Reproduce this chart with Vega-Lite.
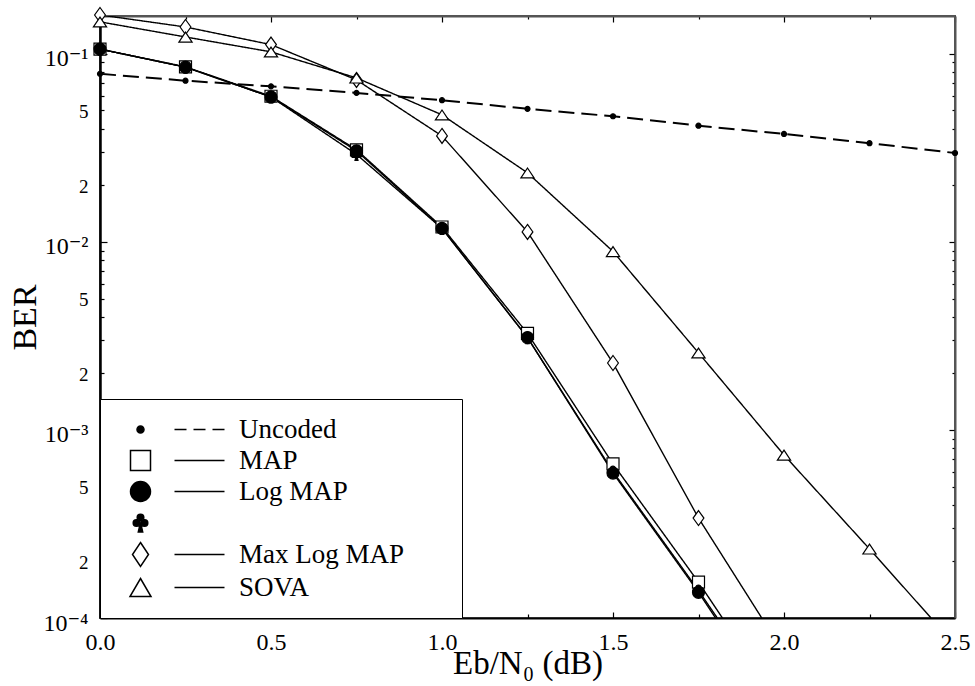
{
  "$schema": "https://vega.github.io/schema/vega-lite/v6.json",
  "width": 855,
  "height": 602,
  "autosize": {"type": "none"},
  "padding": {"left": 100, "top": 16, "right": 20, "bottom": 68},
  "background": "white",
  "data": {
    "values": [
      {"x": 0.0, "BER": 0.0783, "series": "Uncoded"},
      {"x": 0.25, "BER": 0.0720, "series": "Uncoded"},
      {"x": 0.5, "BER": 0.0672, "series": "Uncoded"},
      {"x": 0.75, "BER": 0.0620, "series": "Uncoded"},
      {"x": 1.0, "BER": 0.0567, "series": "Uncoded"},
      {"x": 1.25, "BER": 0.0510, "series": "Uncoded"},
      {"x": 1.5, "BER": 0.0466, "series": "Uncoded"},
      {"x": 1.75, "BER": 0.0415, "series": "Uncoded"},
      {"x": 2.0, "BER": 0.0375, "series": "Uncoded"},
      {"x": 2.25, "BER": 0.0335, "series": "Uncoded"},
      {"x": 2.5, "BER": 0.0297, "series": "Uncoded"},

      {"x": 0.0, "BER": 0.106, "series": "MAP"},
      {"x": 0.25, "BER": 0.0853, "series": "MAP"},
      {"x": 0.5, "BER": 0.0595, "series": "MAP"},
      {"x": 0.75, "BER": 0.0309, "series": "MAP"},
      {"x": 1.0, "BER": 0.0120, "series": "MAP"},
      {"x": 1.25, "BER": 0.00326, "series": "MAP"},
      {"x": 1.5, "BER": 0.00066, "series": "MAP"},
      {"x": 1.75, "BER": 0.000155, "series": "MAP"},
      {"x": 1.82, "BER": 0.0001, "series": "MAP"},

      {"x": 0.0, "BER": 0.106, "series": "Club"},
      {"x": 0.25, "BER": 0.0850, "series": "Club"},
      {"x": 0.5, "BER": 0.0590, "series": "Club"},
      {"x": 0.75, "BER": 0.0292, "series": "Club"},
      {"x": 1.0, "BER": 0.0118, "series": "Club"},
      {"x": 1.25, "BER": 0.00310, "series": "Club"},
      {"x": 1.5, "BER": 0.00060, "series": "Club"},
      {"x": 1.75, "BER": 0.000140, "series": "Club"},
      {"x": 1.805, "BER": 0.0001, "series": "Club"},

      {"x": 0.0, "BER": 0.106, "series": "Log MAP"},
      {"x": 0.25, "BER": 0.0850, "series": "Log MAP"},
      {"x": 0.5, "BER": 0.0590, "series": "Log MAP"},
      {"x": 0.75, "BER": 0.0305, "series": "Log MAP"},
      {"x": 1.0, "BER": 0.0118, "series": "Log MAP"},
      {"x": 1.25, "BER": 0.00310, "series": "Log MAP"},
      {"x": 1.5, "BER": 0.00059, "series": "Log MAP"},
      {"x": 1.75, "BER": 0.000137, "series": "Log MAP"},
      {"x": 1.80, "BER": 0.0001, "series": "Log MAP"},

      {"x": 0.0, "BER": 0.161, "series": "Max Log MAP"},
      {"x": 0.25, "BER": 0.139, "series": "Max Log MAP"},
      {"x": 0.5, "BER": 0.112, "series": "Max Log MAP"},
      {"x": 0.75, "BER": 0.0727, "series": "Max Log MAP"},
      {"x": 1.0, "BER": 0.0366, "series": "Max Log MAP"},
      {"x": 1.25, "BER": 0.0113, "series": "Max Log MAP"},
      {"x": 1.5, "BER": 0.00227, "series": "Max Log MAP"},
      {"x": 1.75, "BER": 0.00034, "series": "Max Log MAP"},
      {"x": 1.935, "BER": 0.0001, "series": "Max Log MAP"},

      {"x": 0.0, "BER": 0.148, "series": "SOVA"},
      {"x": 0.25, "BER": 0.123, "series": "SOVA"},
      {"x": 0.5, "BER": 0.1025, "series": "SOVA"},
      {"x": 0.75, "BER": 0.0745, "series": "SOVA"},
      {"x": 1.0, "BER": 0.0474, "series": "SOVA"},
      {"x": 1.25, "BER": 0.0233, "series": "SOVA"},
      {"x": 1.5, "BER": 0.0089, "series": "SOVA"},
      {"x": 1.75, "BER": 0.00257, "series": "SOVA"},
      {"x": 2.0, "BER": 0.000736, "series": "SOVA"},
      {"x": 2.25, "BER": 0.000233, "series": "SOVA"},
      {"x": 2.43, "BER": 0.0001, "series": "SOVA"}
    ]
  },
  "config": {
    "view": {"stroke": "#555555", "strokeWidth": 2},
    "axis": {
      "grid": false,
      "labelFont": "Liberation Serif, DejaVu Serif",
      "titleFont": "Liberation Serif, DejaVu Serif",
      "labelColor": "black",
      "titleColor": "black",
      "tickColor": "black",
      "domainColor": "black",
      "titleFontWeight": "normal",
      "labelOverlap": false,
      "labelFlush": false,
      "labelBound": false
    }
  },
  "resolve": {
    "axis": {"x": "independent", "y": "independent"},
    "scale": {"shape": "independent", "fill": "independent", "stroke": "independent"},
    "legend": {"shape": "independent", "fill": "independent", "stroke": "independent"}
  },
  "layer": [
    {
      "mark": {"type": "line", "clip": true, "color": "black"},
      "encoding": {
        "x": {
          "field": "x", "type": "quantitative",
          "scale": {"domain": [0, 2.5], "nice": false, "zero": false},
          "axis": {
            "orient": "bottom",
            "values": [0, 0.25, 0.5, 0.75, 1.0, 1.25, 1.5, 1.75, 2.0, 2.25, 2.5],
            "labelExpr": "round(datum.value*4) % 2 == 0 ? format(datum.value, '.1f') : ''",
            "labelFontSize": 24,
            "labelPadding": 18,
            "tickSize": {"condition": {"test": "round(datum.value*4) % 2 == 0", "value": -6}, "value": -4},
            "tickWidth": 1.2,
            "domainWidth": 2,
            "title": "Eb/N\u2080 (dB)",
            "titleFontSize": 33,
            "titlePadding": -9
          }
        },
        "y": {
          "field": "BER", "type": "quantitative",
          "scale": {"type": "log", "domain": [0.0001, 0.159], "nice": false},
          "axis": {
            "orient": "left",
            "values": [0.0001, 0.0002, 0.0003, 0.0004, 0.0005, 0.0006, 0.0007, 0.0008, 0.0009, 0.001, 0.002, 0.003, 0.004, 0.005, 0.006, 0.007, 0.008, 0.009, 0.01, 0.02, 0.03, 0.04, 0.05, 0.06, 0.07, 0.08, 0.09, 0.1],
            "labelExpr": "format(datum.value,'.0e') == '1e-1' ? '10\u207b\u00b9' : format(datum.value,'.0e') == '1e-2' ? '10\u207b\u00b2' : format(datum.value,'.0e') == '1e-3' ? '10\u207b\u00b3' : format(datum.value,'.0e') == '1e-4' ? '10\u207b\u2074' : indexof(format(datum.value,'.0e'),'5e') == 0 ? '5' : indexof(format(datum.value,'.0e'),'2e') == 0 ? '2' : ''",
            "labelFontSize": {"condition": {"test": "indexof(format(datum.value,'.0e'),'1e') == 0", "value": 24}, "value": 19},
            "labelOffset": {"condition": {"test": "indexof(format(datum.value,'.0e'),'1e') == 0", "value": 5}, "value": 1},
            "labelPadding": {"condition": {"test": "indexof(format(datum.value,'.0e'),'1e') == 0", "value": 19}, "value": 16},
            "tickSize": {"condition": {"test": "indexof(format(datum.value,'.0e'),'1e') == 0", "value": -7}, "value": -4},
            "tickWidth": 1.2,
            "domainWidth": 2.5,
            "title": "BER",
            "titleFontSize": 34,
            "titlePadding": 0
          }
        },
        "detail": {"field": "series"},
        "strokeDash": {
          "field": "series", "type": "nominal",
          "scale": {"type": "ordinal", "domain": ["Club", "MAP", "Log MAP", "Uncoded", "Max Log MAP", "SOVA"], "range": [[1, 0], [1, 0], [1, 0], [16, 7], [1, 0], [1, 0]]},
          "legend": null
        },
        "strokeWidth": {
          "field": "series", "type": "nominal",
          "scale": {"type": "ordinal", "domain": ["Max Log MAP", "MAP", "Log MAP", "Club", "Uncoded", "SOVA"], "range": [1.4, 1.4, 1.4, 1.4, 2, 1.4]},
          "legend": null
        }
      }
    },
    {
      "transform": [{"filter": "datum.BER > 0.0001"}],
      "mark": {"type": "point", "filled": true, "opacity": 1, "stroke": "black", "strokeWidth": 1.2, "clip": false},
      "encoding": {
        "x": {
          "field": "x", "type": "quantitative",
          "scale": {"domain": [0, 2.5], "nice": false, "zero": false},
          "axis": {
            "orient": "top",
            "values": [0, 0.25, 0.5, 0.75, 1.0, 1.25, 1.5, 1.75, 2.0, 2.25, 2.5],
            "labels": false,
            "title": null,
            "domainColor": "#555555",
            "domainWidth": 2,
            "tickSize": {"condition": {"test": "round(datum.value*4) % 2 == 0", "value": -6}, "value": -3},
            "tickWidth": 1.2
          }
        },
        "y": {
          "field": "BER", "type": "quantitative",
          "scale": {"type": "log", "domain": [0.0001, 0.159], "nice": false},
          "axis": {
            "orient": "right",
            "values": [0.0001, 0.0002, 0.0003, 0.0004, 0.0005, 0.0006, 0.0007, 0.0008, 0.0009, 0.001, 0.002, 0.003, 0.004, 0.005, 0.006, 0.007, 0.008, 0.009, 0.01, 0.02, 0.03, 0.04, 0.05, 0.06, 0.07, 0.08, 0.09, 0.1],
            "labels": false,
            "title": null,
            "domainColor": "#555555",
            "domainWidth": 2,
            "tickSize": {"condition": {"test": "indexof(format(datum.value,'.0e'),'1e') == 0", "value": -6}, "value": -3},
            "tickWidth": 1.2
          }
        },
        "shape": {
          "field": "series", "type": "nominal",
          "scale": {
            "domain": ["Uncoded", "MAP", "Log MAP", "Club", "Max Log MAP", "SOVA"],
            "range": [
              "circle",
              "square",
              "circle",
              "M-0.42,-0.5 A0.42,0.42 0 1,1 0.42,-0.5 A0.42,0.42 0 1,1 -0.42,-0.5 Z M-0.9,0.1 A0.42,0.42 0 1,1 -0.06,0.1 A0.42,0.42 0 1,1 -0.9,0.1 Z M0.06,0.1 A0.42,0.42 0 1,1 0.9,0.1 A0.42,0.42 0 1,1 0.06,0.1 Z M-0.25,1 L0,0 L0.25,1 Z",
              "M0,-1.25 L0.9,0 L0,1.25 L-0.9,0 Z",
              "M0,-0.8 L1.1,0.85 L-1.1,0.85 Z"
            ]
          },
          "legend": null
        },
        "fill": {
          "field": "series", "type": "nominal",
          "scale": {"domain": ["MAP", "Uncoded", "Log MAP", "Club", "Max Log MAP", "SOVA"], "range": ["white", "black", "black", "black", "white", "white"]},
          "legend": null
        },
        "size": {
          "field": "series", "type": "nominal",
          "scale": {"type": "ordinal", "domain": ["Log MAP", "MAP", "Uncoded", "Club", "Max Log MAP", "SOVA"], "range": [144, 144, 25, 144, 144, 144]},
          "legend": null
        }
      }
    },
    {
      "transform": [{"filter": "false"}],
      "mark": {"type": "point", "filled": true, "opacity": 1, "strokeWidth": 1.5},
      "encoding": {
        "shape": {
          "field": "series", "type": "nominal",
          "scale": {
            "domain": ["Uncoded", "MAP", "Log MAP", "Club", "Max Log MAP", "SOVA"],
            "range": [
              "M-0.35,0 A0.35,0.35 0 1,1 0.35,0 A0.35,0.35 0 1,1 -0.35,0 Z M3.4,0 L4.6,0 M5.3,0 L6.5,0 M7.2,0 L8.4,0",
              "M-1,-1 L1,-1 L1,1 L-1,1 Z M3.4,0 L8.4,0",
              "M-1,0 A1,1 0 1,1 1,0 A1,1 0 1,1 -1,0 Z M3.4,0 L8.4,0",
              "M-0.33,-0.5 A0.33,0.33 0 1,1 0.33,-0.5 A0.33,0.33 0 1,1 -0.33,-0.5 Z M-0.73,0.05 A0.33,0.33 0 1,1 -0.07,0.05 A0.33,0.33 0 1,1 -0.73,0.05 Z M0.07,0.05 A0.33,0.33 0 1,1 0.73,0.05 A0.33,0.33 0 1,1 0.07,0.05 Z M-0.22,0.95 L0,0 L0.22,0.95 Z",
              "M0,-1.2 L0.8,0 L0,1.2 L-0.8,0 Z M3.4,0 L8.4,0",
              "M0,-0.9 L1.05,0.9 L-1.05,0.9 Z M3.4,0 L8.4,0"
            ]
          },
          "legend": {
            "orient": "none",
            "legendX": 0,
            "legendY": 383,
            "title": null,
            "padding": 17,
            "strokeColor": "black",
            "fillColor": "white",
            "symbolSize": 400,
            "symbolStrokeWidth": 1.5,
            "symbolOpacity": 1,
            "symbolOffset": 10,
            "labelOffset": 85,
            "labelFont": "Liberation Serif",
            "labelFontSize": 27,
            "labelColor": "black",
            "labelLimit": 500,
            "rowPadding": 3,
            "labelExpr": "datum.label == 'Club' ? '' : datum.label == 'Max Log MAP' ? 'Max Log MAP\u2800\u2800' : datum.label"
          }
        },
        "fill": {
          "field": "series", "type": "nominal",
          "scale": {"domain": ["Uncoded", "MAP", "Log MAP", "Club", "Max Log MAP", "SOVA"], "range": ["black", "white", "black", "black", "white", "white"]},
          "legend": {"orient": "none", "legendX": 0, "legendY": 383, "title": null}
        },
        "stroke": {
          "field": "series", "type": "nominal",
          "scale": {"domain": ["Uncoded", "MAP", "Log MAP", "Club", "Max Log MAP", "SOVA"], "range": ["black", "black", "black", "black", "black", "black"]},
          "legend": {"orient": "none", "legendX": 0, "legendY": 383, "title": null}
        }
      }
    }
  ]
}
